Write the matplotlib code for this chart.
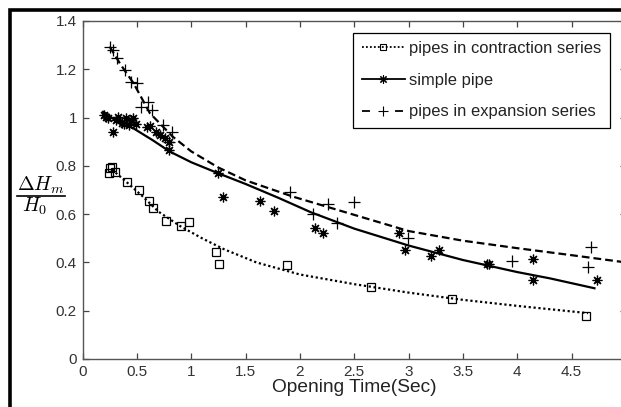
import matplotlib
matplotlib.use("Agg")
import matplotlib.pyplot as plt
from matplotlib.patches import Rectangle
from matplotlib.lines import Line2D

plt.rcParams['font.family'] = ['Liberation Sans', 'DejaVu Sans']
plt.rcParams['mathtext.fontset'] = 'cm'

# --- data ---
con_x = [0.24, 0.25, 0.27, 0.30, 0.41, 0.52, 0.61, 0.65, 0.77, 0.91, 0.98, 1.23, 1.26, 1.88, 2.65, 3.40, 4.63]
con_y = [0.77, 0.79, 0.794, 0.776, 0.735, 0.70, 0.656, 0.625, 0.573, 0.551, 0.567, 0.444, 0.392, 0.388, 0.30, 0.247, 0.178]

sim_x = [0.20, 0.22, 0.23, 0.28, 0.31, 0.33, 0.36, 0.38, 0.40, 0.43, 0.45, 0.46, 0.49, 0.59, 0.62, 0.68,
         0.71, 0.76, 0.80, 0.80, 1.25, 1.29, 1.63, 1.76, 2.14, 2.21, 2.91, 2.97, 3.21, 3.28, 3.72, 3.74,
         4.14, 4.14, 4.73]
sim_y = [1.01, 1.004, 0.997, 0.942, 0.99, 1.004, 0.976, 0.973, 0.997, 0.969, 0.99, 0.997, 0.973, 0.96, 0.965, 0.94,
         0.928, 0.914, 0.90, 0.866, 0.77, 0.672, 0.656, 0.615, 0.541, 0.52, 0.523, 0.451, 0.427, 0.451, 0.392, 0.395,
         0.414, 0.327, 0.327]

exp_x = [0.25, 0.28, 0.32, 0.39, 0.45, 0.50, 0.54, 0.60, 0.64, 0.74, 0.80, 0.82, 1.91, 2.12, 2.26, 2.34,
         2.50, 2.99, 3.95, 4.65, 4.68]
exp_y = [1.294, 1.28, 1.245, 1.197, 1.149, 1.142, 1.045, 1.066, 1.03, 0.969, 0.90, 0.942, 0.69, 0.60, 0.64, 0.562,
         0.65, 0.50, 0.406, 0.382, 0.465]

# fitted curves
con_fit_x = [0.27, 0.4, 0.55, 0.7, 0.9, 1.1, 1.3, 1.6, 2.0, 2.5, 3.0, 3.5, 4.0, 4.65]
con_fit_y = [0.785, 0.735, 0.675, 0.61, 0.55, 0.50, 0.455, 0.40, 0.35, 0.31, 0.275, 0.245, 0.22, 0.19]

sim_fit_x = [0.19, 0.3, 0.47, 0.65, 0.8, 1.0, 1.25, 1.5, 1.8, 2.1, 2.5, 3.0, 3.5, 4.0, 4.3, 4.71]
sim_fit_y = [1.024, 0.99, 0.955, 0.905, 0.86, 0.815, 0.769, 0.725, 0.668, 0.608, 0.54, 0.47, 0.41, 0.36, 0.334, 0.293]

exp_fit_x = [0.25, 0.35, 0.47, 0.62, 0.83, 1.0, 1.25, 1.5, 1.94, 2.5, 3.0, 3.5, 4.0, 4.5, 5.0]
exp_fit_y = [1.294, 1.22, 1.142, 1.018, 0.921, 0.86, 0.793, 0.74, 0.672, 0.597, 0.53, 0.49, 0.459, 0.43, 0.40]

labels = ['pipes in contraction series', 'simple pipe', 'pipes in expansion series']
x_ticks = [0, 0.5, 1, 1.5, 2, 2.5, 3, 3.5, 4, 4.5, 5]
x_tick_labels = ['0', '0.5', '1', '1.5', '2', '2.5', '3', '3.5', '4', '4.5', '5']
y_ticks = [0, 0.2, 0.4, 0.6, 0.8, 1.0, 1.2, 1.4]
y_tick_labels = ['0', '0.2', '0.4', '0.6', '0.8', '1', '1.2', '1.4']
ylabel_num = r'$\Delta H_m$'
ylabel_den = r'$H_0$'

W, H = 621, 407
fig = plt.figure(figsize=(W / 100, H / 100), dpi=100)
fig.patch.set_facecolor('white')
ax = fig.add_axes([82.5 / W, 48 / H, 543.5 / W, 338 / H])

asterisk = (8, 2, 0)
ax.plot(con_fit_x, con_fit_y, color='black', ls=(0, (1, 1.2)), lw=1.6)
ax.plot(sim_fit_x, sim_fit_y, color='black', ls='-', lw=1.6)
ax.plot(exp_fit_x, exp_fit_y, color='black', ls=(0, (3.5, 1.8)), lw=1.6)

ax.plot(con_x, con_y, ls='none', marker='s', ms=5.5, mfc='none', mec='black', mew=0.9)
ax.plot(sim_x, sim_y, ls='none', marker=asterisk, ms=7, mec='black', mew=0.9)
ax.plot(exp_x, exp_y, ls='none', marker='+', ms=8, mec='black', mew=0.9)

# legend handles
h1, = ax.plot([], [], color='black', ls=(0, (1, 1.2)), lw=1.3, marker='s', ms=5, mfc='none', mew=0.8)
h2, = ax.plot([], [], color='black', ls='-', lw=1.3, marker=asterisk, ms=6, mew=0.8)
h3, = ax.plot([], [], color='black', ls=(0, (4.4, 13.9)), lw=1.3, marker='+', ms=7, mew=0.8)
leg = ax.legend([h1, h2, h3], labels, loc='upper right', bbox_to_anchor=(610 / W, 1 - 33 / H),
                bbox_transform=fig.transFigure, borderaxespad=0, fancybox=False, framealpha=1,
                edgecolor='black', fontsize=11.9, numpoints=1, handlelength=2.6, handletextpad=0.3,
                labelspacing=1.0, borderpad=0.5)
leg.get_frame().set_linewidth(0.9)
for t in leg.get_texts():
    t.set_color('#222222')

ax.set_xlim(0, 5)
ax.set_ylim(0, 1.4)
ax.set_xticks(x_ticks)
ax.set_xticklabels(x_tick_labels)
ax.set_yticks(y_ticks)
ax.set_yticklabels(y_tick_labels)
ax.tick_params(direction='in', length=4, width=0.9, top=True, right=True, colors='#444444',
               labelcolor='#333333', labelsize=11, pad=4)
for s in ax.spines.values():
    s.set_color('#555555')
    s.set_linewidth(1.0)

ax.set_xlabel('Opening Time(Sec)', fontsize=13.8, color='#222222', labelpad=0)

# y label as a stacked fraction
fig.text(41 / W, 1 - 191 / H, ylabel_num, fontsize=14.5, ha='center', va='baseline')
fig.text(35 / W, 1 - 212 / H, ylabel_den, fontsize=14.5, ha='center', va='baseline')
fig.add_artist(Line2D([17 / W, 65 / W], [1 - 196 / H, 1 - 196 / H], color='black', lw=1.2,
                      transform=fig.transFigure))

fig.patches.append(Rectangle((9.5 / W, -0.5), 2.0, 1.5 - 9.5 / H, fill=False, lw=2.6,
                             edgecolor='black', transform=fig.transFigure, figure=fig, clip_on=False))

fig.savefig('out.png', dpi=100)
